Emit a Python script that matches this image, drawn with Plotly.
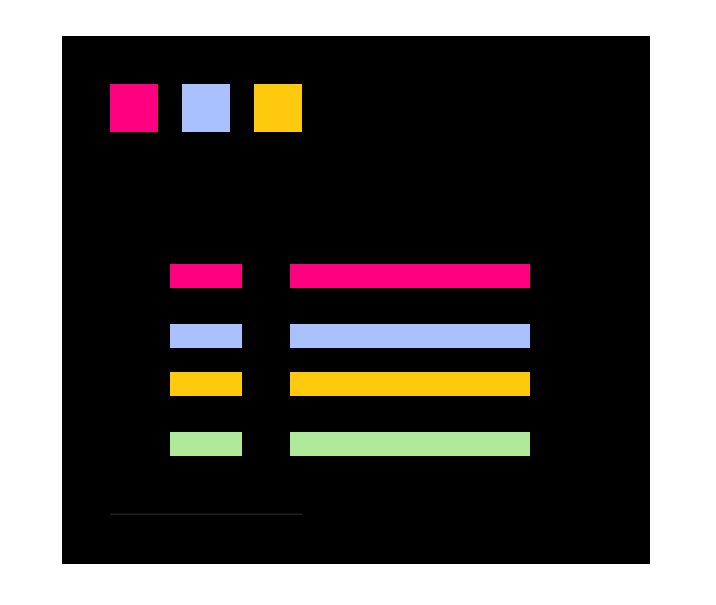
import plotly.graph_objects as go

# Grid units (1 unit = 12 px of the plot area)
swatch_colors = ["#FF0080", "#A9C1FF", "#FFC90E"]
swatch_start = [4, 10, 16]
swatch_size = 4
swatch_row = 6

row_colors = ["#FF0080", "#A9C1FF", "#FFC90E", "#AEEA9A"]
row_pos = [20, 25, 29, 34]
label_start = [9, 9, 9, 9]
label_len = [6, 6, 6, 6]
value_start = [19, 19, 19, 19]
value_len = [20, 20, 20, 20]

baseline_x = [4, 20]
baseline_y = [39.85, 39.85]

fig = go.Figure()

# Top swatches
for start, color in zip(swatch_start, swatch_colors):
    fig.add_trace(go.Bar(x=[swatch_size], y=[swatch_row], base=[start],
                         orientation='h', width=swatch_size,
                         marker=dict(color=color, line=dict(width=0)),
                         showlegend=False, hoverinfo='skip'))

# Row label blocks and value bars
fig.add_trace(go.Bar(x=label_len, y=row_pos, base=label_start, orientation='h',
                     width=2, marker=dict(color=row_colors, line=dict(width=0)),
                     showlegend=False, hoverinfo='skip'))
fig.add_trace(go.Bar(x=value_len, y=row_pos, base=value_start, orientation='h',
                     width=2, marker=dict(color=row_colors, line=dict(width=0)),
                     showlegend=False, hoverinfo='skip'))

# Faint baseline
fig.add_trace(go.Scatter(x=baseline_x, y=baseline_y, mode='lines',
                         line=dict(color='rgba(255,255,255,0.2)', width=1),
                         showlegend=False, hoverinfo='skip'))

# page body adds an 8px offset, so the margins are trimmed to match
fig.update_layout(
    width=708, height=597,
    margin=dict(l=54, r=66, t=28, b=41),
    paper_bgcolor='white', plot_bgcolor='black',
    barmode='overlay',
    xaxis=dict(range=[0, 49], visible=False, fixedrange=True),
    yaxis=dict(range=[44, 0], visible=False, fixedrange=True),
)

fig.write_html("out.html")
